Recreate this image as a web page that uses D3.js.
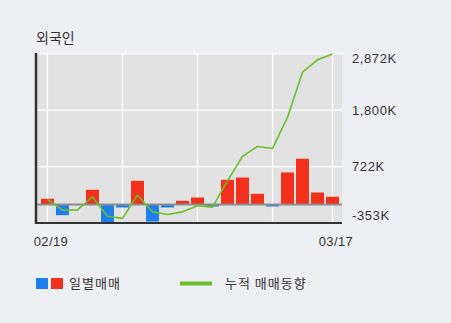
<!DOCTYPE html>
<html>
<head>
<meta charset="utf-8">
<script src="https://cdn.jsdelivr.net/npm/d3@7/dist/d3.min.js"></script>
<style>
  html, body { margin: 0; padding: 0; background: #eeeff3; }
  svg { display: block; }
  text { font-family: "Liberation Sans", "Noto Sans CJK KR", sans-serif; fill: #333; }
  .kr { font-family: "Noto Sans CJK KR", "Liberation Sans", sans-serif; }
</style>
</head>
<body>
<svg id="chart" width="451" height="323"></svg>
<script>
// Foreign investor net buying: daily amounts (K) and running total (K)
const dates = ["02/19","02/20","02/21","02/24","02/25","02/26","02/27","02/28","03/02","03/03",
               "03/04","03/05","03/06","03/09","03/10","03/11","03/12","03/13","03/16","03/17"];
const daily = [109, -203, 0, 281, -353, -57, 452, -325, -57, 70,
               134, -38, 471, 515, 204, -38, 611, 872, 229, 147];
const cumulative = [95, -107, -102, 145, -225, -265, 180, -140, -192, -140,
                    -25, -50, 450, 918, 1108, 1068, 1665, 2525, 2760, 2872];
const yTicks = [-353, 722, 1800, 2872];
const yTickLabels = ["-353K", "722K", "1,800K", "2,872K"];
const xLabelDates = ["02/19", "03/17"];
const gridDates = ["02/19", "02/26", "03/04", "03/11", "03/17"];

const svg = d3.select("#chart");
const plot = { left: 36, right: 342, top: 54, bottom: 223 };

const x = d3.scaleBand().domain(dates).range([40, 340]).paddingInner(2 / 15).paddingOuter(1 / 15);
const y = d3.scaleLinear().domain([-353, 2872]).range([plot.bottom, plot.top]);
const cx = d => x(d) + x.bandwidth() / 2;

// plot background
svg.append("rect")
  .attr("x", plot.left).attr("y", plot.top)
  .attr("width", plot.right - plot.left).attr("height", plot.bottom - plot.top)
  .attr("fill", "#e2e2e2");

// horizontal grid
svg.append("g").selectAll("line").data(yTicks.slice(1)).join("line")
  .attr("x1", plot.left).attr("x2", plot.right)
  .attr("y1", d => y(d)).attr("y2", d => y(d))
  .attr("stroke", "#ffffff").attr("stroke-width", 1.2);

// vertical grid
svg.append("g").selectAll("line").data(gridDates).join("line")
  .attr("x1", d => cx(d)).attr("x2", d => cx(d))
  .attr("y1", plot.top).attr("y2", plot.bottom)
  .attr("stroke", "#ffffff").attr("stroke-width", 1.2);

// daily bars
svg.append("g").selectAll("rect").data(dates).join("rect")
  .attr("x", d => x(d))
  .attr("width", x.bandwidth())
  .attr("y", (d, i) => y(Math.max(0, daily[i])))
  .attr("height", (d, i) => Math.abs(y(daily[i]) - y(0)))
  .attr("fill", (d, i) => daily[i] >= 0 ? "#f2301b" : "#1d7fef");

// zero line
svg.append("line")
  .attr("x1", plot.left).attr("x2", plot.right)
  .attr("y1", y(0)).attr("y2", y(0))
  .attr("stroke", "#8c8c8c").attr("stroke-width", 2);

// cumulative line
const line = d3.line().x((d, i) => cx(dates[i])).y(d => y(d));
svg.append("path").datum(cumulative)
  .attr("d", line)
  .attr("fill", "none")
  .attr("stroke", "#69bf2a")
  .attr("stroke-width", 1.6)
  .attr("stroke-linejoin", "round");

// axes frame
svg.append("line")
  .attr("x1", plot.left).attr("x2", plot.left)
  .attr("y1", plot.top - 1).attr("y2", plot.bottom + 1)
  .attr("stroke", "#333").attr("stroke-width", 2.5);
svg.append("line")
  .attr("x1", plot.left).attr("x2", plot.right)
  .attr("y1", plot.bottom).attr("y2", plot.bottom)
  .attr("stroke", "#333").attr("stroke-width", 2);

// right-hand value labels
svg.append("g").selectAll("text").data(yTicks).join("text")
  .attr("x", 352)
  .attr("y", d => Math.min(Math.max(y(d), plot.top + 4), plot.bottom - 8))
  .attr("dy", "0.35em")
  .attr("font-size", 13)
  .attr("letter-spacing", 0.6)
  .text((d, i) => yTickLabels[i]);

// date labels
svg.append("g").selectAll("text").data(xLabelDates).join("text")
  .attr("x", d => cx(d) + 3.5)
  .attr("y", 241)
  .attr("dy", "0.35em")
  .attr("text-anchor", "middle")
  .attr("font-size", 13)
  .attr("letter-spacing", 0.4)
  .text(d => d);

// title
svg.append("text").attr("class", "kr")
  .attr("x", 36).attr("y", 38).attr("dy", "0.35em")
  .attr("font-size", 14)
  .text("외국인");

// legend
const lg = svg.append("g");
lg.append("rect").attr("x", 36).attr("y", 278).attr("width", 12).attr("height", 11).attr("fill", "#1d7fef");
lg.append("rect").attr("x", 51).attr("y", 278).attr("width", 12).attr("height", 11).attr("fill", "#f2301b");
lg.append("text").attr("class", "kr")
  .attr("x", 69).attr("y", 283.5).attr("dy", "0.35em")
  .attr("font-size", 13).attr("letter-spacing", 1)
  .text("일별매매");
lg.append("line").attr("x1", 180).attr("x2", 212).attr("y1", 283.5).attr("y2", 283.5)
  .attr("stroke", "#69bf2a").attr("stroke-width", 4);
lg.append("text").attr("class", "kr")
  .attr("x", 225).attr("y", 283.5).attr("dy", "0.35em")
  .attr("font-size", 13).attr("letter-spacing", 1)
  .text("누적 매매동향");
</script>
</body>
</html>
